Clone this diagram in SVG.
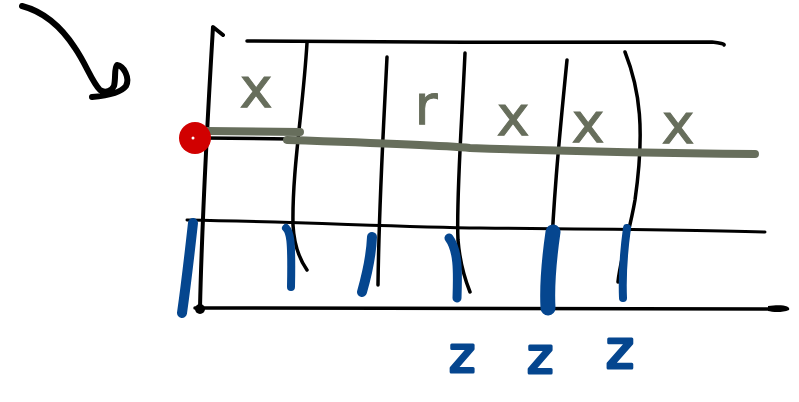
<svg xmlns="http://www.w3.org/2000/svg" width="799" height="402" viewBox="0 0 799 402">
<style>
.ink{fill:none;stroke:#000;stroke-linecap:round;stroke-linejoin:round}
.gray{fill:none;stroke:#676e5c;stroke-linecap:round;stroke-linejoin:round}
.blue{fill:none;stroke:#05468f;stroke-linecap:round;stroke-linejoin:round}
.gx{font-family:"DejaVu Sans",sans-serif;fill:#676e5c;stroke:#676e5c;stroke-width:1;text-anchor:middle}
.bz{font-family:"DejaVu Sans",sans-serif;fill:#05468f;stroke:#05468f;stroke-width:3;stroke-linejoin:round;text-anchor:middle}
</style>
<rect width="799" height="402" fill="#fff"/>
<g id="arrow">
<path class="ink" stroke-width="6" d="M22,6 C45,12 62,28 75,48 C86,64 92,82 100,90 C106,94 112,90 114,86 C116,78 114,68 117,65 C124,66 130,78 126,86 C120,94 104,96 92,97"/>
</g>
<g id="grid">
<path class="ink" stroke-width="4" d="M223,35 L213,27 C208,110 202,220 200,308"/>
<path class="ink" stroke-width="3.5" d="M247,41 C400,42 560,43 712,42 C720,43 725,44 724,45"/>
<path class="ink" stroke-width="3.5" d="M205,138 L290,139"/>
<path class="ink" stroke-width="3.5" d="M307,43 C303,110 292,170 293,225 C294,245 300,260 307,270"/>
<path class="ink" stroke-width="3.5" d="M387,57 C384,120 379,200 378,285"/>
<path class="ink" stroke-width="3.5" d="M465,53 C462,120 456,200 458,240 C460,265 466,282 470,292"/>
<path class="ink" stroke-width="3.5" d="M567,60 C560,130 551,220 550,300"/>
<path class="ink" stroke-width="3.5" d="M625,52 C640,90 645,130 635,200 C630,230 620,260 618,282"/>
<path class="ink" stroke-width="3" d="M187,220 C300,222 400,227 480,228 C600,229 700,230 765,232"/>
<path class="ink" stroke-width="3.5" d="M195,308 C400,308 600,309 780,309"/>
<path d="M768,306 C782,304 791,306 789,310 C782,313 772,312 768,311 Z" fill="#000"/>
<circle cx="200" cy="309" r="5" fill="#000"/>
</g>
<g id="gray-line">
<path class="gray" stroke-width="8" d="M207,131 L300,132"/>
<path class="gray" stroke-width="8" d="M287,140 C380,143 440,145 470,148 C560,151 660,153 755,154"/>
</g>
<g id="origin">
<circle cx="195" cy="138" r="16" fill="#d10000"/>
<circle cx="193" cy="138" r="1.5" fill="#fff"/>
</g>
<g id="blue-marks">
<path class="blue" stroke-width="10" d="M193,223 C190,250 186,285 182,313"/>
<path class="blue" stroke-width="8" d="M286,228 C290,232 292,238 291,287"/>
<path class="blue" stroke-width="10" d="M372,237 C371,260 366,278 362,292"/>
<path class="blue" stroke-width="9" d="M449,238 C458,250 458,270 457,298"/>
<path class="blue" stroke-width="15" d="M553,232 C549,260 547,290 548,308"/>
<path class="blue" stroke-width="8" d="M627,228 C624,250 622,275 623,298"/>
</g>
<g id="labels">
<text class="gx" x="256" y="107" font-size="56">x</text>
<text class="gx" x="426" y="124" font-size="56">r</text>
<text class="gx" x="513" y="135" font-size="56">x</text>
<text class="gx" x="588" y="142" font-size="56">x</text>
<text class="gx" x="678" y="143" font-size="56">x</text>
<text class="bz" x="462" y="372" font-size="50">z</text>
<text class="bz" x="540" y="373" font-size="50">z</text>
<text class="bz" x="620" y="368" font-size="54">z</text>
</g>
</svg>
